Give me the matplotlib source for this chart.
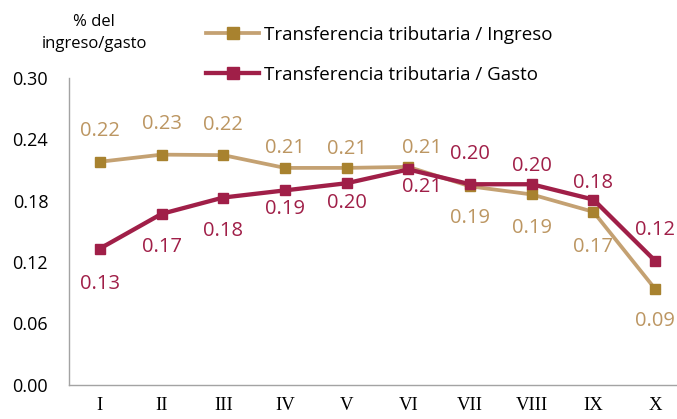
import matplotlib
matplotlib.use('Agg')
from matplotlib import pyplot as plt

deciles = ['I', 'II', 'III', 'IV', 'V', 'VI', 'VII', 'VIII', 'IX', 'X']
ingreso = [0.218, 0.225, 0.2245, 0.212, 0.212, 0.213, 0.194, 0.186, 0.169, 0.0935]
gasto = [0.133, 0.167, 0.183, 0.190, 0.197, 0.2105, 0.196, 0.196, 0.181, 0.121]
yticks = [0.00, 0.06, 0.12, 0.18, 0.24, 0.30]

# desplazamiento de las etiquetas (pixeles, + abajo)
dy_ingreso = [-31, -31, -30, -20, -19, -19, 32, 34, 35, 32]
dy_gasto = [35, 33, 33, 19, 20, 18, -30, -18, -17, -31]
dx_vi = [0, 0, 0, 0, 0, 14, 0, 0, 0, 0]

tan_line = '#C4A172'
tan_mark = '#A8822F'
tan_text = '#BC9662'
red = '#A01F48'

plt.rcParams['font.family'] = ['Open Sans', 'DejaVu Sans']

fig = plt.figure(figsize=(6.77, 4.19), dpi=100)
ax = fig.add_axes([69 / 677, 34.5 / 419, 617 / 677, 306.5 / 419])

x = list(range(len(deciles)))
ax.plot(x, ingreso, color=tan_line, lw=2.7, marker='s', ms=7.8,
        mfc=tan_mark, mec=tan_mark, label='Transferencia tributaria / Ingreso', zorder=3)
ax.plot(x, gasto, color=red, lw=3.1, marker='s', ms=7.8,
        mfc=red, mec=red, label='Transferencia tributaria / Gasto', zorder=4)

px = 0.72  # puntos por pixel a 100 dpi
for i in x:
    ax.annotate('%.2f' % ingreso[i], (i, ingreso[i]),
                xytext=(dx_vi[i] * px, -dy_ingreso[i] * px),
                textcoords='offset points', ha='center', va='center',
                color=tan_text, fontsize=14.5)
    ax.annotate('%.2f' % gasto[i], (i, gasto[i]),
                xytext=(dx_vi[i] * px, -dy_gasto[i] * px),
                textcoords='offset points', ha='center', va='center',
                color=red, fontsize=14.5)

ax.set_xlim(-0.5, 9.5)
ax.set_ylim(0, 0.30)
ax.set_yticks(yticks)
ax.set_yticklabels(['%.2f' % t for t in yticks], fontsize=13)
ax.set_xticks(x)
ax.set_xticklabels(deciles, fontsize=13.5, family='Liberation Serif')
ax.tick_params(axis='both', length=0)
ax.tick_params(axis='y', pad=15)
ax.tick_params(axis='x', pad=9)
for s in ['top', 'right']:
    ax.spines[s].set_visible(False)
for s in ['left', 'bottom']:
    ax.spines[s].set_color('#A3A3A3')
    ax.spines[s].set_linewidth(1)

fig.text(94 / 677, 1 - 33 / 419, '% del\ningreso/gasto', ha='center', va='center',
         fontsize=12, linespacing=1.5)

ax.legend(loc='upper left', bbox_to_anchor=(206 / 677, 1 - 26 / 419),
          bbox_transform=fig.transFigure, frameon=False, fontsize=13.5,
          borderpad=0, borderaxespad=0, markerscale=1.05,
          handlelength=2.85, handletextpad=0.25, labelspacing=1.17)

fig.savefig('out.png', dpi=100)
